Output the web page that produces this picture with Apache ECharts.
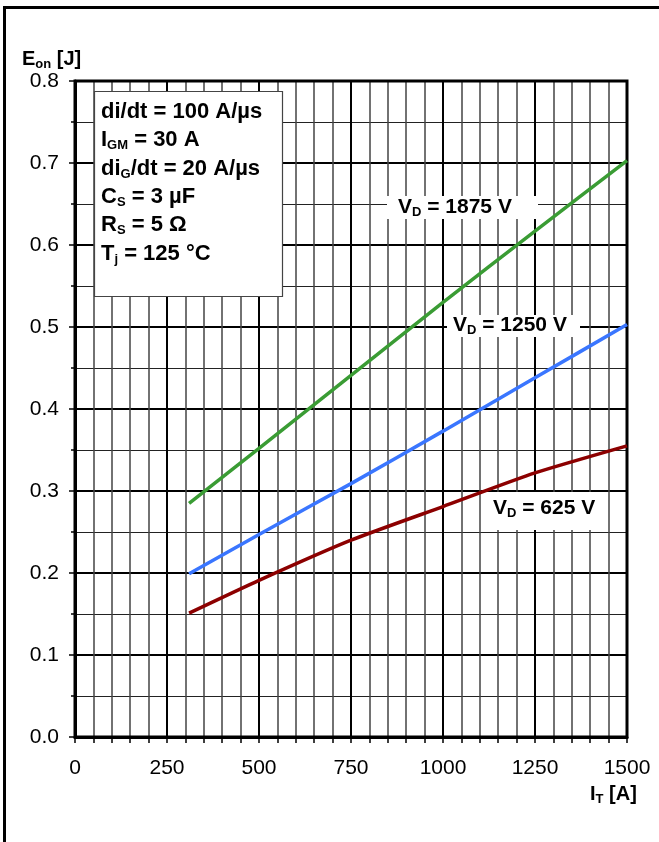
<!DOCTYPE html>
<html>
<head>
<meta charset="utf-8">
<script src="https://cdn.jsdelivr.net/npm/echarts@6/dist/echarts.min.js"></script>
<style>
html,body{margin:0;padding:0;background:#fff;}
#chart{width:659px;height:842px;}
</style>
</head>
<body>
<div id="chart"></div>
<script>
// ---- data ----
const currentA = [310, 500, 750, 1000, 1250, 1500];
const eon1875V = [0.285, 0.352, 0.441, 0.530, 0.617, 0.703];
const eon1250V = [0.199, 0.247, 0.309, 0.373, 0.438, 0.503];
const eon625V  = [0.151, 0.191, 0.240, 0.281, 0.322, 0.355];
const xTickValues = [0, 250, 500, 750, 1000, 1250, 1500];
const yTickValues = [0.0, 0.1, 0.2, 0.3, 0.4, 0.5, 0.6, 0.7, 0.8];
const seriesNames = ['VD = 1875 V', 'VD = 1250 V', 'VD = 625 V'];
const conditionLines = [
  ['di/dt = 100 A/µs'],
  ['I', 'GM', ' = 30 A'],
  ['di', 'G', '/dt = 20 A/µs'],
  ['C', 'S', ' = 3 µF'],
  ['R', 'S', ' = 5 Ω'],
  ['T', 'j', ' = 125 °C']
];

const FONT = '"Liberation Sans", Arial, sans-serif';
const pairs = (xs, ys) => xs.map((x, i) => [x, ys[i]]);

function makeRich(big, small) {
  return {
    b: {fontFamily: FONT, fontWeight: 'bold', fontSize: big, lineHeight: 24, color: '#000'},
    s: {fontFamily: FONT, fontWeight: 'bold', fontSize: small, lineHeight: 12, verticalAlign: 'bottom', color: '#000'}
  };
}
function richLine(parts) {
  return parts.map((p, i) => (i % 2 === 0 ? '{b|' : '{s|') + p + '}').join('');
}

const graphics = [];
// outer frame
graphics.push({type: 'rect', z: 1, shape: {x: 4.5, y: 7.5, width: 800, height: 900},
  style: {fill: 'none', stroke: '#000', lineWidth: 3}});
// conditions box
graphics.push({type: 'rect', z: 50, shape: {x: 94.5, y: 91.5, width: 188, height: 205},
  style: {fill: '#fff', stroke: '#444', lineWidth: 1.2}});
const lineY = [112, 140, 169, 197, 225, 254];
conditionLines.forEach((parts, i) => {
  graphics.push({type: 'text', z: 51, x: 101, y: lineY[i],
    style: {text: richLine(parts), rich: makeRich(22, 13), verticalAlign: 'middle', align: 'left'}});
});
// curve labels (white boxes + text)
const curveLabelBoxes = [
  {box: [387, 196, 151, 23], tx: 398, ty: 207},
  {box: [447, 315, 133, 22], tx: 453, ty: 325},
  {box: [487, 492, 116, 38], tx: 493, ty: 508}
];
const curveLabelParts = [['V', 'D', ' = 1875 V'], ['V', 'D', ' = 1250 V'], ['V', 'D', ' = 625 V']];
curveLabelBoxes.forEach((c, i) => {
  graphics.push({type: 'rect', z: 50, shape: {x: c.box[0], y: c.box[1], width: c.box[2], height: c.box[3]},
    style: {fill: '#fff'}});
  graphics.push({type: 'text', z: 51, x: c.tx, y: c.ty,
    style: {text: richLine(curveLabelParts[i]), rich: makeRich(21, 13), verticalAlign: 'middle', align: 'left'}});
});
// axis titles
graphics.push({type: 'text', z: 51, x: 22, y: 59,
  style: {text: '{b|E}{s|on}{b| [J]}', rich: makeRich(20, 13), verticalAlign: 'middle', align: 'left'}});
graphics.push({type: 'text', z: 51, x: 590, y: 794,
  style: {text: '{b|I}{s|T}{b| [A]}', rich: makeRich(20, 13), verticalAlign: 'middle', align: 'left'}});

const chart = echarts.init(document.getElementById('chart'), null, {renderer: 'canvas'});
chart.setOption({
  backgroundColor: '#fff',
  animation: false,
  grid: {left: 75, right: 32, top: 81, bottom: 105, show: true, borderColor: '#000', borderWidth: 3, z: 3},
  xAxis: {
    type: 'value', min: xTickValues[0], max: xTickValues[xTickValues.length - 1], interval: 250,
    axisLine: {show: true, onZero: false, lineStyle: {color: '#000', width: 3}},
    axisTick: {show: true, inside: false, length: 6, lineStyle: {color: '#000', width: 1.5}},
    minorTick: {show: true, splitNumber: 5, length: 6, lineStyle: {color: '#000', width: 1.5}},
    axisLabel: {margin: 21, fontFamily: FONT, fontSize: 21, color: '#000', formatter: v => String(v)},
    splitLine: {show: true, lineStyle: {color: '#000', width: 2}},
    minorSplitLine: {show: true, lineStyle: {color: '#444', width: 1.5}}
  },
  yAxis: {
    type: 'value', min: yTickValues[0], max: yTickValues[yTickValues.length - 1], interval: 0.1,
    axisLine: {show: true, onZero: false, lineStyle: {color: '#000', width: 3}},
    axisTick: {show: true, inside: false, length: 6, lineStyle: {color: '#000', width: 1.5}},
    minorTick: {show: true, splitNumber: 2, length: 4, lineStyle: {color: '#000', width: 1.5}},
    axisLabel: {margin: 16, fontFamily: FONT, fontSize: 21, color: '#000', formatter: v => v.toFixed(1)},
    splitLine: {show: true, lineStyle: {color: '#000', width: 2}},
    minorSplitLine: {show: true, lineStyle: {color: '#222', width: 1.2}}
  },
  series: [
    {name: seriesNames[0], type: 'line', data: pairs(currentA, eon1875V), showSymbol: false, smooth: 0.2, z: 5,
     lineStyle: {color: '#3a9c34', width: 3.5}},
    {name: seriesNames[1], type: 'line', data: pairs(currentA, eon1250V), showSymbol: false, smooth: 0.2, z: 5,
     lineStyle: {color: '#3a76ff', width: 3.5}},
    {name: seriesNames[2], type: 'line', data: pairs(currentA, eon625V), showSymbol: false, smooth: 0.2, z: 5,
     lineStyle: {color: '#8c0000', width: 3.5}}
  ],
  graphic: {elements: graphics}
});
</script>
</body>
</html>
